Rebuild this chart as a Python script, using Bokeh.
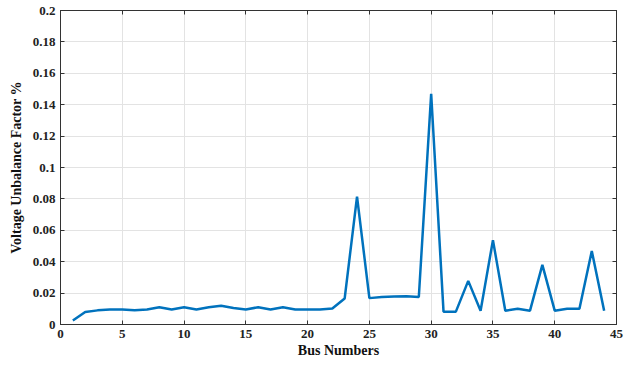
from bokeh.plotting import figure
from bokeh.models import LinearAxis, FixedTicker, Range1d
from bokeh.embed import file_html
from bokeh.resources import INLINE

bus = list(range(1, 45))
vuf = [0.0025, 0.008, 0.009, 0.0095, 0.0095, 0.009, 0.0095, 0.011, 0.0095, 0.011,
       0.0095, 0.011, 0.012, 0.0105, 0.0095, 0.011, 0.0095, 0.011, 0.0095, 0.0095,
       0.0095, 0.0102, 0.0166, 0.0815, 0.0168, 0.0175, 0.0178, 0.018, 0.0175, 0.147,
       0.0082, 0.0082, 0.0278, 0.0088, 0.0537, 0.0088, 0.0100, 0.0088, 0.0380, 0.0088,
       0.0100, 0.0100, 0.0468, 0.0088]

xticks = [0, 5, 10, 15, 20, 25, 30, 35, 40, 45]
yticks = [0, 0.02, 0.04, 0.06, 0.08, 0.1, 0.12, 0.14, 0.16, 0.18, 0.2]
ytick_labels = ["0", "0.02", "0.04", "0.06", "0.08", "0.1", "0.12", "0.14", "0.16", "0.18", "0.2"]

FONT = "Liberation Serif"

p = figure(width=632, height=367, output_backend="svg", toolbar_location=None,
           x_range=Range1d(0, 45), y_range=Range1d(0, 0.2),
           min_border_left=60, min_border_right=16, min_border_top=10, min_border_bottom=43)

p.line(bus, vuf, line_color="#0072BD", line_width=2.5)

p.xaxis.ticker = FixedTicker(ticks=xticks)
p.yaxis.ticker = FixedTicker(ticks=yticks)
p.yaxis.major_label_overrides = {t: l for t, l in zip(yticks, ytick_labels)}

for ax in [p.xaxis[0], p.yaxis[0]]:
    ax.major_label_text_font = FONT
    ax.major_label_text_font_style = "bold"
    ax.major_label_text_font_size = "13px"
    ax.major_label_text_color = "#222222"
    ax.axis_label_text_font = FONT
    ax.axis_label_text_font_style = "bold"
    ax.axis_label_text_font_size = "14px"
    ax.axis_label_text_color = "#111111"
    ax.major_tick_in = 4
    ax.major_tick_out = 0
    ax.minor_tick_in = 0
    ax.minor_tick_out = 0
    ax.axis_line_color = "#333333"
    ax.major_tick_line_color = "#333333"

p.xaxis.axis_label = "Bus Numbers"
p.yaxis.axis_label = "Voltage Unbalance Factor %"
p.xaxis.major_label_standoff = 5
p.xaxis.axis_label_standoff = 2
p.yaxis.major_label_standoff = 5
p.yaxis.axis_label_standoff = 6

# top and right box axes with inward ticks, no labels
top = LinearAxis(ticker=FixedTicker(ticks=xticks), major_label_text_font_size="0px",
                 major_tick_in=4, major_tick_out=0, minor_tick_in=0, minor_tick_out=0,
                 major_label_standoff=0, axis_line_color="#333333", major_tick_line_color="#333333")
right = LinearAxis(ticker=FixedTicker(ticks=yticks), major_label_text_font_size="0px",
                   major_tick_in=4, major_tick_out=0, minor_tick_in=0, minor_tick_out=0,
                   major_label_standoff=0, axis_line_color="#333333", major_tick_line_color="#333333")
p.add_layout(top, "above")
p.add_layout(right, "right")

p.xgrid.grid_line_color = "#e3e3e3"
p.ygrid.grid_line_color = "#e3e3e3"
p.outline_line_color = "#333333"

open("out.html", "w").write(file_html(p, INLINE))
